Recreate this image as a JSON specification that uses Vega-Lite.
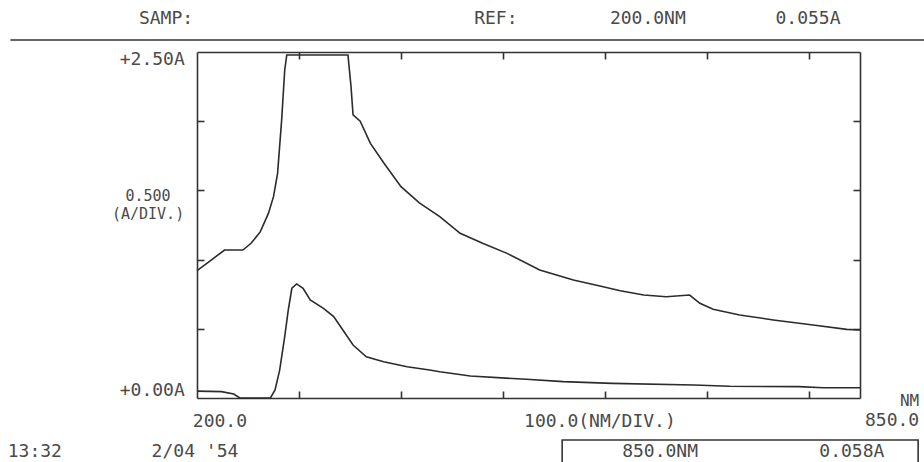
{
  "$schema": "https://vega.github.io/schema/vega-lite/v6.json",
  "width": 663,
  "height": 346,
  "autosize": {"type": "none"},
  "padding": {"left": 197, "top": 52, "right": 64, "bottom": 64},
  "background": "white",
  "config": {
    "view": {"stroke": null},
    "text": {"font": "DejaVu Sans Mono", "fontSize": 18, "color": "#4a4a4a", "baseline": "middle"}
  },
  "datasets": {
    "spectra": [
      {"series": "upper", "wavelength": 200, "absorbance": 0.92},
      {"series": "upper", "wavelength": 210, "absorbance": 0.974},
      {"series": "upper", "wavelength": 220, "absorbance": 1.03},
      {"series": "upper", "wavelength": 227, "absorbance": 1.069},
      {"series": "upper", "wavelength": 245, "absorbance": 1.069},
      {"series": "upper", "wavelength": 253, "absorbance": 1.118},
      {"series": "upper", "wavelength": 262, "absorbance": 1.2},
      {"series": "upper", "wavelength": 270, "absorbance": 1.334},
      {"series": "upper", "wavelength": 275, "absorbance": 1.455},
      {"series": "upper", "wavelength": 279, "absorbance": 1.623},
      {"series": "upper", "wavelength": 281, "absorbance": 1.816},
      {"series": "upper", "wavelength": 283, "absorbance": 2.01},
      {"series": "upper", "wavelength": 286, "absorbance": 2.37},
      {"series": "upper", "wavelength": 288, "absorbance": 2.478},
      {"series": "upper", "wavelength": 348, "absorbance": 2.478},
      {"series": "upper", "wavelength": 351, "absorbance": 2.25},
      {"series": "upper", "wavelength": 353, "absorbance": 2.045},
      {"series": "upper", "wavelength": 360, "absorbance": 2.0},
      {"series": "upper", "wavelength": 370, "absorbance": 1.84},
      {"series": "upper", "wavelength": 383, "absorbance": 1.7},
      {"series": "upper", "wavelength": 400, "absorbance": 1.527},
      {"series": "upper", "wavelength": 418, "absorbance": 1.41},
      {"series": "upper", "wavelength": 438, "absorbance": 1.31},
      {"series": "upper", "wavelength": 458, "absorbance": 1.19},
      {"series": "upper", "wavelength": 480, "absorbance": 1.118},
      {"series": "upper", "wavelength": 504, "absorbance": 1.045},
      {"series": "upper", "wavelength": 536, "absorbance": 0.925},
      {"series": "upper", "wavelength": 569, "absorbance": 0.853},
      {"series": "upper", "wavelength": 595, "absorbance": 0.809},
      {"series": "upper", "wavelength": 615, "absorbance": 0.775},
      {"series": "upper", "wavelength": 638, "absorbance": 0.744},
      {"series": "upper", "wavelength": 660, "absorbance": 0.732},
      {"series": "upper", "wavelength": 683, "absorbance": 0.744},
      {"series": "upper", "wavelength": 693, "absorbance": 0.684},
      {"series": "upper", "wavelength": 706, "absorbance": 0.641},
      {"series": "upper", "wavelength": 732, "absorbance": 0.6},
      {"series": "upper", "wavelength": 765, "absorbance": 0.564},
      {"series": "upper", "wavelength": 804, "absorbance": 0.527},
      {"series": "upper", "wavelength": 837, "absorbance": 0.496},
      {"series": "upper", "wavelength": 850, "absorbance": 0.491},
      {"series": "lower", "wavelength": 200, "absorbance": 0.05},
      {"series": "lower", "wavelength": 224, "absorbance": 0.046},
      {"series": "lower", "wavelength": 236, "absorbance": 0.029},
      {"series": "lower", "wavelength": 242, "absorbance": 0.0},
      {"series": "lower", "wavelength": 272, "absorbance": 0.0},
      {"series": "lower", "wavelength": 276.5, "absorbance": 0.058},
      {"series": "lower", "wavelength": 281, "absorbance": 0.2},
      {"series": "lower", "wavelength": 286, "absorbance": 0.443},
      {"series": "lower", "wavelength": 289.5, "absorbance": 0.636},
      {"series": "lower", "wavelength": 293, "absorbance": 0.793},
      {"series": "lower", "wavelength": 297.7, "absorbance": 0.824},
      {"series": "lower", "wavelength": 304, "absorbance": 0.793},
      {"series": "lower", "wavelength": 311, "absorbance": 0.708},
      {"series": "lower", "wavelength": 324, "absorbance": 0.648},
      {"series": "lower", "wavelength": 334, "absorbance": 0.588},
      {"series": "lower", "wavelength": 343, "absorbance": 0.491},
      {"series": "lower", "wavelength": 353, "absorbance": 0.383},
      {"series": "lower", "wavelength": 366, "absorbance": 0.298},
      {"series": "lower", "wavelength": 383, "absorbance": 0.262},
      {"series": "lower", "wavelength": 406, "absorbance": 0.226},
      {"series": "lower", "wavelength": 428, "absorbance": 0.202},
      {"series": "lower", "wavelength": 438, "absorbance": 0.19},
      {"series": "lower", "wavelength": 468, "absorbance": 0.159},
      {"series": "lower", "wavelength": 523, "absorbance": 0.135},
      {"series": "lower", "wavelength": 559, "absorbance": 0.118},
      {"series": "lower", "wavelength": 607, "absorbance": 0.106},
      {"series": "lower", "wavelength": 687, "absorbance": 0.094},
      {"series": "lower", "wavelength": 722, "absorbance": 0.085},
      {"series": "lower", "wavelength": 790, "absorbance": 0.082},
      {"series": "lower", "wavelength": 814, "absorbance": 0.074},
      {"series": "lower", "wavelength": 850, "absorbance": 0.074}
    ]
  },
  "data": {"values": [{}]},
  "layer": [
    {
      "data": {"name": "spectra"},
      "transform": [{"filter": "datum.series === 'upper'"}],
      "mark": {"type": "line", "color": "#2b2b2b", "strokeWidth": 1.6},
      "encoding": {
        "x": {"field": "wavelength", "type": "quantitative",
          "scale": {"domain": [200, 850], "nice": false, "zero": false},
          "axis": {"orient": "bottom", "values": [300, 400, 500, 600, 700, 800], "labels": false, "title": null, "grid": false,
            "tickSize": -7, "tickColor": "#333", "tickWidth": 1.6, "domainColor": "#333", "domainWidth": 1.6}},
        "y": {"field": "absorbance", "type": "quantitative",
          "scale": {"domain": [0, 2.5], "nice": false, "zero": false},
          "axis": {"orient": "left", "values": [0.5, 1, 1.5, 2], "labels": false, "title": null, "grid": false,
            "tickSize": -7, "tickColor": "#333", "tickWidth": 1.6, "domainColor": "#333", "domainWidth": 1.6}}
      }
    },
    {
      "data": {"name": "spectra"},
      "transform": [{"filter": "datum.series === 'lower'"}],
      "mark": {"type": "line", "color": "#2b2b2b", "strokeWidth": 1.6},
      "encoding": {
        "x": {"field": "wavelength", "type": "quantitative",
          "axis": {"orient": "top", "values": [300, 400, 500, 600, 700, 800], "labels": false, "title": null, "grid": false,
            "tickSize": -7, "tickColor": "#333", "tickWidth": 1.6, "domainColor": "#333", "domainWidth": 1.6}},
        "y": {"field": "absorbance", "type": "quantitative",
          "axis": {"orient": "right", "values": [0.5, 1, 1.5, 2], "labels": false, "title": null, "grid": false,
            "tickSize": -7, "tickColor": "#333", "tickWidth": 1.6, "domainColor": "#333", "domainWidth": 1.6}}
      }
    },
    {
      "mark": {"type": "rule", "color": "#333", "strokeWidth": 1.6},
      "encoding": {
        "x": {"datum": 17, "type": "quantitative", "axis": null},
        "x2": {"datum": 913},
        "y": {"datum": 2.587, "type": "quantitative", "axis": null}
      }
    },
    {
      "mark": {"type": "rect", "fill": null, "fillOpacity": 0, "stroke": "#333", "strokeWidth": 1.6},
      "encoding": {
        "x": {"datum": 558, "type": "quantitative", "axis": null},
        "x2": {"datum": 907},
        "y": {"datum": -0.303, "type": "quantitative", "axis": null},
        "y2": {"datum": -0.55}
      }
    },
    {"mark": {"type": "text", "align": "center"}, "encoding": {"x": {"datum": 169.6, "type": "quantitative", "axis": null}, "y": {"datum": 2.735, "type": "quantitative", "axis": null}, "text": {"value": "SAMP:"}}},
    {"mark": {"type": "text", "align": "center"}, "encoding": {"x": {"datum": 493, "type": "quantitative", "axis": null}, "y": {"datum": 2.735, "type": "quantitative", "axis": null}, "text": {"value": "REF:"}}},
    {"mark": {"type": "text", "align": "center"}, "encoding": {"x": {"datum": 642, "type": "quantitative", "axis": null}, "y": {"datum": 2.735, "type": "quantitative", "axis": null}, "text": {"value": "200.0NM"}}},
    {"mark": {"type": "text", "align": "center"}, "encoding": {"x": {"datum": 799, "type": "quantitative", "axis": null}, "y": {"datum": 2.735, "type": "quantitative", "axis": null}, "text": {"value": "0.055A"}}},
    {"mark": {"type": "text", "align": "right"}, "encoding": {"x": {"datum": 188, "type": "quantitative", "axis": null}, "y": {"datum": 2.442, "type": "quantitative", "axis": null}, "text": {"value": "+2.50A"}}},
    {"mark": {"type": "text", "align": "right"}, "encoding": {"x": {"datum": 188, "type": "quantitative", "axis": null}, "y": {"datum": 0.051, "type": "quantitative", "axis": null}, "text": {"value": "+0.00A"}}},
    {"mark": {"type": "text", "align": "center", "fontSize": 15}, "encoding": {"x": {"datum": 152, "type": "quantitative", "axis": null}, "y": {"datum": 1.462, "type": "quantitative", "axis": null}, "text": {"value": "0.500"}}},
    {"mark": {"type": "text", "align": "center", "fontSize": 15}, "encoding": {"x": {"datum": 152, "type": "quantitative", "axis": null}, "y": {"datum": 1.33, "type": "quantitative", "axis": null}, "text": {"value": "(A/DIV.)"}}},
    {"mark": {"type": "text", "align": "center"}, "encoding": {"x": {"datum": 222.5, "type": "quantitative", "axis": null}, "y": {"datum": -0.173, "type": "quantitative", "axis": null}, "text": {"value": "200.0"}}},
    {"mark": {"type": "text", "align": "center"}, "encoding": {"x": {"datum": 595, "type": "quantitative", "axis": null}, "y": {"datum": -0.173, "type": "quantitative", "axis": null}, "text": {"value": "100.0(NM/DIV.)"}}},
    {"mark": {"type": "text", "align": "right", "fontSize": 16}, "encoding": {"x": {"datum": 908, "type": "quantitative", "axis": null}, "y": {"datum": -0.025, "type": "quantitative", "axis": null}, "text": {"value": "NM"}}},
    {"mark": {"type": "text", "align": "right"}, "encoding": {"x": {"datum": 908, "type": "quantitative", "axis": null}, "y": {"datum": -0.168, "type": "quantitative", "axis": null}, "text": {"value": "850.0"}}},
    {"mark": {"type": "text", "align": "center"}, "encoding": {"x": {"datum": 41, "type": "quantitative", "axis": null}, "y": {"datum": -0.39, "type": "quantitative", "axis": null}, "text": {"value": "13:32"}}},
    {"mark": {"type": "text", "align": "center"}, "encoding": {"x": {"datum": 198, "type": "quantitative", "axis": null}, "y": {"datum": -0.39, "type": "quantitative", "axis": null}, "text": {"value": "2/04 '54"}}},
    {"mark": {"type": "text", "align": "center"}, "encoding": {"x": {"datum": 654, "type": "quantitative", "axis": null}, "y": {"datum": -0.39, "type": "quantitative", "axis": null}, "text": {"value": "850.0NM"}}},
    {"mark": {"type": "text", "align": "center"}, "encoding": {"x": {"datum": 842, "type": "quantitative", "axis": null}, "y": {"datum": -0.39, "type": "quantitative", "axis": null}, "text": {"value": "0.058A"}}}
  ]
}
